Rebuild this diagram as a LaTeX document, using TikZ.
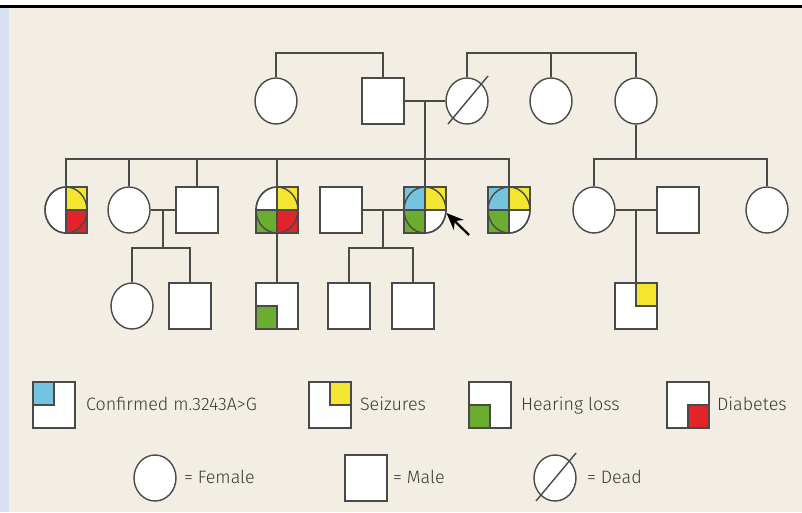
\documentclass[tikz,border=0pt]{standalone}
\usepackage{fontspec}
\setmainfont{Fira Sans Light}
\usetikzlibrary{shapes.geometric,arrows.meta,calc,positioning}

\definecolor{bgbeige}{HTML}{F2EEE4}
\definecolor{stripblue}{HTML}{D8E1F2}
\definecolor{pedline}{HTML}{4A4A4A}
\definecolor{qblue}{HTML}{74C4DF}
\definecolor{qyellow}{HTML}{F4E531}
\definecolor{qgreen}{HTML}{6BAE2F}
\definecolor{qred}{HTML}{E2232A}
\definecolor{legtext}{HTML}{3A3A3A}

\tikzset{
    female/.style={draw=pedline, ellipse, fill=white, minimum width=0.84cm, minimum height=0.92cm, inner sep=0pt, line width=0.8pt},
    male/.style={draw=pedline, rectangle, fill=white, minimum width=0.84cm, minimum height=0.92cm, inner sep=0pt, line width=0.8pt},
    link/.style={draw=pedline, line width=0.8pt},
    affbox/.style={draw=pedline, line width=0.6pt},
    legend/.style={text=legtext, font=\fontsize{10.2}{12}\selectfont, inner sep=0pt, text height=1.6ex, text depth=0.3ex},
}

% coloured quarter: node, corner offset, colour
\newcommand{\qbox}[3]{\filldraw[affbox, fill=#3] (#1.center) rectangle ++(#2);}
\newcommand{\deadmark}[1]{\draw[link] ($(#1.center)+(-19,23)$) -- ($(#1.center)+(21,-25)$);}

\begin{document}
\begin{tikzpicture}[x=0.02cm, y=-0.02cm]
    \useasboundingbox (0,0) rectangle (802,512);
    \fill[bgbeige] (0,0) rectangle (802,512);
    \fill[white] (0,0) rectangle (802,5);
    \fill[black] (0,5) rectangle (802,8);
    \fill[stripblue] (0,8) rectangle (9,512);

    % first generation
    \node[female] (g1) at (276,101) {};
    \node[male] (g2) at (383,101) {};
    \node[female] (g3) at (467,101) {};
    \node[female] (g4) at (551,101) {};
    \node[female] (g5) at (636,101) {};
    \deadmark{g3}

    \coordinate (top1) at (330,53);
    \coordinate (top2) at (551,53);
    \draw[link] (g1.north) |- (top1) -| (g2.north);
    \draw[link] (g3.north) |- (top2) -| (g5.north);
    \draw[link] (g4.north) -- (top2);
    \draw[link] (g2.east) -- (g3.west);

    % second generation
    \node[female] (a1) at (66,210) {};
    \node[female] (a2) at (129,210) {};
    \node[male] (a3) at (197,210) {};
    \node[female] (a4) at (277,210) {};
    \node[male] (a5) at (341,210) {};
    \node[female] (p) at (425,210) {};
    \node[female] (a7) at (509,210) {};
    \node[female] (c1) at (594,210) {};
    \node[male] (c2) at (678,210) {};
    \node[female] (c3) at (767,210) {};

    \coordinate (m1) at ($(g2.east)!0.5!(g3.west)$);
    \coordinate (sib1) at (m1 |- 0,159);
    \draw[link] (m1) -- (sib1);
    \draw[link] (a1.north) |- (sib1) -| (a7.north);
    \foreach \n in {a2, a3, a4, p}{
            \draw[link] (\n.north) -- (\n.north |- sib1);
        }

    \coordinate (sib2) at (g5.south |- 0,159);
    \draw[link] (g5.south) -- (sib2);
    \draw[link] (c1.north) |- (sib2) -| (c3.north);

    \draw[link] (a2.east) -- (a3.west);
    \draw[link] (a5.east) -- (p.west);
    \draw[link] (c1.east) -- (c2.west);

    % third generation
    \node[female] (b1) at (132,306) {};
    \node[male] (b2) at (190,306) {};
    \node[male] (b3) at (277,306) {};
    \node[male] (b4) at (349,306) {};
    \node[male] (b5) at (413,306) {};
    \node[male] (d1) at (636,306) {};

    \coordinate (m2) at ($(a2.east)!0.5!(a3.west)$);
    \coordinate (k2) at ($(m2)+(0,38)$);
    \draw[link] (m2) -- (k2);
    \draw[link] (b1.north) |- (k2) -| (b2.north);

    \coordinate (m3) at ($(a5.east)!0.5!(p.west)$);
    \coordinate (k3) at ($(m3)+(0,38)$);
    \draw[link] (m3) -- (k3);
    \draw[link] (b4.north) |- (k3) -| (b5.north);

    \draw[link] (a4.south) -- (b3.north);
    \coordinate (m4) at ($(c1.east)!0.5!(c2.west)$);
    \draw[link] (m4) -- (m4 |- d1.north);

    % affected quarters
    \qbox{a1}{21,-23}{qyellow}
    \qbox{a1}{21,23}{qred}
    \node[female, fill=none] at (a1) {};

    \qbox{a4}{21,-23}{qyellow}
    \qbox{a4}{-21,23}{qgreen}
    \qbox{a4}{21,23}{qred}
    \node[female, fill=none] at (a4) {};

    \foreach \n in {p, a7}{
            \qbox{\n}{-21,-23}{qblue}
            \qbox{\n}{21,-23}{qyellow}
            \qbox{\n}{-21,23}{qgreen}
            \node[female, fill=none] at (\n) {};
        }

    \qbox{b3}{-21,23}{qgreen}
    \node[male, fill=none] at (b3) {};
    \qbox{d1}{21,-23}{qyellow}
    \node[male, fill=none] at (d1) {};

    % proband
    \coordinate (ptr) at (469,235);
    \draw[-{Stealth[length=3.4mm, width=2.8mm]}, line width=1.3pt, black] (ptr) -- (p.-8);

    % legend
    \node[male] (l1) at (54,405) {};
    \qbox{l1}{-21,-23}{qblue}
    \node[male, fill=none] at (l1) {};
    \node[legend, right=0.2cm of l1] (t1) {Confirmed m.3243A>G};

    \node[male] (l2) at (330,405) {};
    \qbox{l2}{21,-23}{qyellow}
    \node[male, fill=none] at (l2) {};
    \node[legend, right=0.16cm of l2] (t2) {Seizures};

    \node[male] (l3) at (490,405) {};
    \qbox{l3}{-21,23}{qgreen}
    \node[male, fill=none] at (l3) {};
    \node[legend, right=0.18cm of l3] (t3) {Hearing loss};

    \node[male] (l4) at (688,405) {};
    \qbox{l4}{21,23}{qred}
    \node[male, fill=none] at (l4) {};
    \node[legend, right=0.14cm of l4] (t4) {Diabetes};

    \node[female] (l5) at (155,478) {};
    \node[legend, right=0.14cm of l5] (t5) {= Female};
    \node[male] (l6) at (366,478) {};
    \node[legend, right=0.1cm of l6] (t6) {= Male};
    \node[female] (l7) at (555,478) {};
    \deadmark{l7}
    \node[legend, right=0.2cm of l7] (t7) {= Dead};
\end{tikzpicture}
\end{document}
